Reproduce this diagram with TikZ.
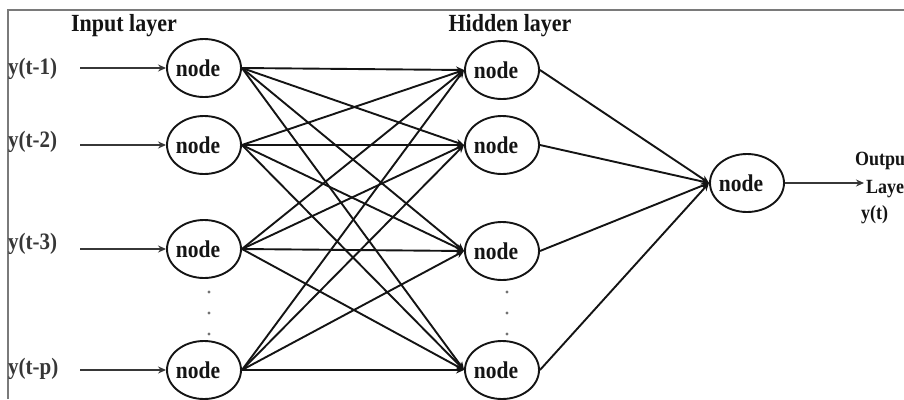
\documentclass[tikz,border=0pt]{standalone}
\usepackage{fontspec}
\setmainfont{Liberation Serif}
\usetikzlibrary{shapes.geometric,arrows.meta}
\definecolor{ink}{HTML}{141414}
\definecolor{frame}{HTML}{7A7A7A}
% taller letter shapes for every label
\newcommand{\tall}[1]{\scalebox{1}[1.12]{#1}}
% "node" text sits a little left of and below the centre of its ellipse
\newcommand{\cell}{\kern-12pt\raisebox{-3pt}{\tall{node}}}
\begin{document}
\begin{tikzpicture}[x=1pt,y=-1pt,
  neuron/.style={ellipse,draw=ink,line width=1.9pt,minimum width=74pt,minimum height=58pt,
                 inner sep=0pt,font=\fontsize{21.5}{20}\selectfont\bfseries,text=ink},
  lbl/.style={font=\fontsize{21}{19}\selectfont\bfseries,text=ink!85,inner sep=0pt,anchor=west},
  head/.style={font=\fontsize{22}{21}\selectfont\bfseries,text=ink,inner sep=0pt},
  outlbl/.style={font=\fontsize{18}{16}\selectfont\bfseries,text=ink,inner sep=0pt,anchor=west},
  link/.style={draw=ink,line width=1.9pt,-{Stealth[length=8pt,width=7pt]}},
  feed/.style={draw=ink!85,line width=2pt,-{Stealth[length=8pt,width=7pt]}},
  dot/.style={circle,fill=ink!60,inner sep=0pt,minimum size=3.4pt}]

\useasboundingbox (0,0) rectangle (904,399);

% frame on the top and left sides
\draw[frame,line width=2pt] (7.5,399) -- (7.5,9.5) -- (904,9.5);

% layer titles
\node[head] (tin) at (124,26) {\tall{Input layer}};
\node[head] (thid) at (510,26) {\tall{Hidden layer}};

% input layer
\node[neuron] (i1) at (204,68) {\cell};
\node[neuron] (i2) at (204,145) {\cell};
\node[neuron] (i3) at (204,249) {\cell};
\node[neuron] (ip) at (204,370) {\cell};

% hidden layer
\node[neuron] (h1) at (502,70) {\cell};
\node[neuron] (h2) at (502,145) {\cell};
\node[neuron] (h3) at (502,251) {\cell};
\node[neuron] (hp) at (502,370) {\cell};

% output node
\node[neuron] (o) at (747,183) {\cell};

% input labels and their arrows
\node[lbl] (x1) at (8,69) {\tall{y(t-1)}};
\node[lbl] (x2) at (8,142) {\tall{y(t-2)}};
\node[lbl] (x3) at (8,244) {\tall{y(t-3)}};
\node[lbl] (xp) at (8,369) {\tall{y(t-p)}};
\coordinate (s1) at (80,68);
\coordinate (s2) at (80,145);
\coordinate (s3) at (80,249);
\coordinate (sp) at (80,370);
\foreach \k in {1,2,3,p} \draw[feed] (s\k) -- (i\k.west);

% vertical ellipsis dots
\foreach \y in {292,313,334} {
  \node[dot] (di\y) at (209,\y) {};
  \node[dot] (dh\y) at (507,\y) {};
}

% fully connected input -> hidden
\foreach \a in {1,2,3,p}
  \foreach \b in {1,2,3,p}
    \draw[link] (i\a.east) -- (h\b.west);

% hidden -> output
\foreach \b in {1,2,3,p} \draw[link] (h\b.east) -- (o.west);

% output arrow and label
\coordinate (oe) at (864,183);
\draw[feed] (o.east) -- (oe);
\node[outlbl] (ol1) at (855,161) {\tall{Output}};
\node[outlbl] (ol2) at (866,189) {\tall{Layer}};
\node[outlbl] (ol3) at (861,215) {\tall{y(t)}};
\end{tikzpicture}
\end{document}
